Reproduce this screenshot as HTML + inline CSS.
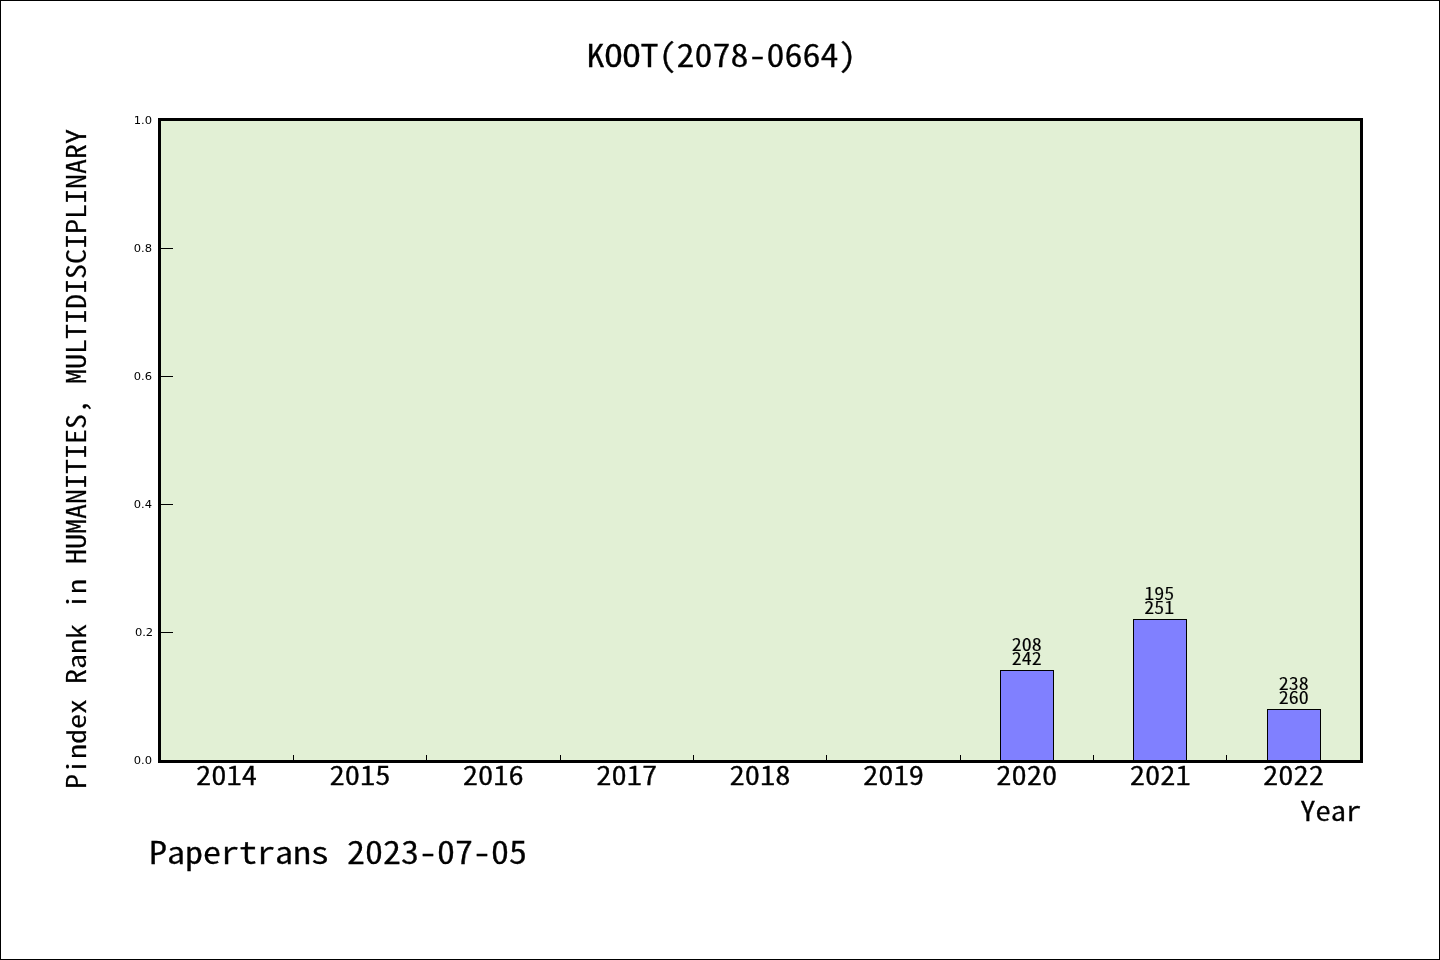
<!DOCTYPE html>
<html lang="en">
<head>
<meta charset="utf-8">
<title>KOOT(2078-0664)</title>
<style>
html,body{margin:0;padding:0;background:#fff;overflow:hidden;}
body{width:1440px;height:960px;position:relative;overflow:hidden;}
#fig{position:absolute;left:0;top:0;width:1440px;height:960px;background:#fff;}
#frame{position:absolute;left:0;top:0;width:1440px;height:960px;box-sizing:border-box;border:1px solid #000;}
.k{background:#000;position:absolute;}
#plot{position:absolute;left:158px;top:118px;width:1205px;height:645px;background:#e2f0d5;box-sizing:border-box;border:3px solid #000;}
.bar{position:absolute;box-sizing:border-box;border:1px solid #000;border-bottom:none;background:#8080ff;}
.hei{font-family:"Noto Sans CJK SC","IPAGothic","Liberation Mono",monospace;font-weight:350;font-feature-settings:"hwid" 1;font-kerning:none;-webkit-text-stroke:0.4px #000;color:#000;white-space:pre;position:absolute;margin:0;transform:scaleY(0.88);transform-origin:0 0;}
.dv{font-family:"DejaVu Sans","Liberation Sans",sans-serif;color:#000;white-space:pre;position:absolute;font-size:11.5px;line-height:14px;width:40px;text-align:right;left:112px;transform:scaleY(0.87);}
.xt{font-size:30.5px;line-height:30px;width:100px;text-align:center;top:760.1px;}
.bl{-webkit-text-stroke:0.2px #000;font-size:20px;line-height:16px;width:60px;text-align:center;}
</style>
</head>
<body>
<div id="fig">
  <div id="frame"></div>
  <!-- axes background + spines -->
  <div id="plot"></div>

  <!-- y major ticks -->
  <div class="k" style="left:161px;top:248px;width:12px;height:1px;"></div>
  <div class="k" style="left:161px;top:376px;width:12px;height:1px;"></div>
  <div class="k" style="left:161px;top:504px;width:12px;height:1px;"></div>
  <div class="k" style="left:161px;top:632px;width:12px;height:1px;"></div>

  <!-- x minor ticks -->
  <div class="k" style="left:293px;top:755px;width:1px;height:5px;"></div>
  <div class="k" style="left:426px;top:755px;width:1px;height:5px;"></div>
  <div class="k" style="left:560px;top:755px;width:1px;height:5px;"></div>
  <div class="k" style="left:693px;top:755px;width:1px;height:5px;"></div>
  <div class="k" style="left:826px;top:755px;width:1px;height:5px;"></div>
  <div class="k" style="left:960px;top:755px;width:1px;height:5px;"></div>
  <div class="k" style="left:1093px;top:755px;width:1px;height:5px;"></div>
  <div class="k" style="left:1226px;top:755px;width:1px;height:5px;"></div>

  <!-- bars -->
  <div class="bar" style="left:1000px;top:670px;width:54px;height:90px;"></div>
  <div class="bar" style="left:1133px;top:619px;width:54px;height:141px;"></div>
  <div class="bar" style="left:1267px;top:709px;width:54px;height:51px;"></div>

  <!-- bar labels -->
  <div class="hei bl" style="left:996.8px;top:637px;">208<br>242</div>
  <div class="hei bl" style="left:1129.3px;top:586px;">195<br>251</div>
  <div class="hei bl" style="left:1263.8px;top:676px;">238<br>260</div>

  <!-- y tick labels -->
  <div class="dv" style="top:113.5px;">1.0</div>
  <div class="dv" style="top:241.5px;">0.8</div>
  <div class="dv" style="top:369.5px;">0.6</div>
  <div class="dv" style="top:497.5px;">0.4</div>
  <div class="dv" style="top:625.5px;left:113.2px;">0.2</div>
  <div class="dv" style="top:753.5px;">0.0</div>

  <!-- x tick labels -->
  <div class="hei xt" style="left:176.6px;">2014</div>
  <div class="hei xt" style="left:310.0px;">2015</div>
  <div class="hei xt" style="left:443.3px;">2016</div>
  <div class="hei xt" style="left:576.7px;">2017</div>
  <div class="hei xt" style="left:710.1px;">2018</div>
  <div class="hei xt" style="left:843.5px;">2019</div>
  <div class="hei xt" style="left:976.8px;">2020</div>
  <div class="hei xt" style="left:1110.2px;">2021</div>
  <div class="hei xt" style="left:1243.6px;">2022</div>

  <!-- axis labels, title, footer -->
  <div class="hei" id="xlabel" style="left:1300.3px;top:796.1px;font-size:30.5px;line-height:30px;">Year</div>
  <div class="hei" id="ylabel" style="left:61px;top:789px;-webkit-text-stroke-width:0.3px;font-size:30px;line-height:30px;transform:rotate(-90deg) scaleY(0.88);">Pindex Rank in HUMANITIES, MULTIDISCIPLINARY</div>
  <div class="hei" id="title" style="left:586.4px;top:36.9px;width:270px;text-align:center;font-size:36px;line-height:36px;">KOOT(2078-0664)</div>
  <div class="hei" id="footer" style="left:149px;top:834px;font-size:36px;line-height:36px;">Papertrans 2023-07-05</div>
</div>
</body>
</html>
